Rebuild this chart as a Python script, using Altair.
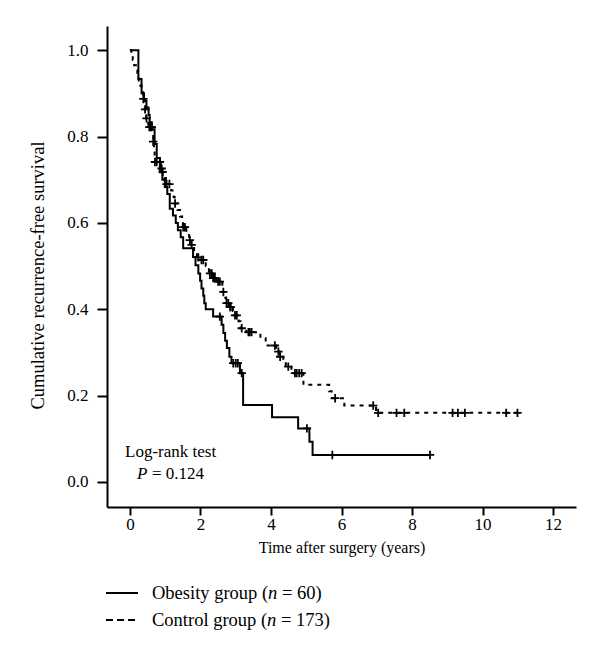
import altair as alt
import pandas as pd

# ---------------- data ----------------
# Obesity group (solid): step times (years) and survival after each step
ob_time = [0, 0.24, 0.33, 0.40, 0.47, 0.53, 0.56, 0.62, 0.70, 0.76, 0.85, 0.92, 0.99,
           1.06, 1.13, 1.22, 1.30, 1.36, 1.44, 1.51, 1.79, 1.86, 1.94, 1.99, 2.03,
           2.08, 2.11, 2.15, 2.36, 2.60, 2.65, 2.70, 2.75, 2.82, 2.88, 3.12, 3.21,
           4.03, 4.77, 5.09, 5.18, 8.51]
ob_surv = [1.0, 0.933, 0.90, 0.883, 0.867, 0.85, 0.833, 0.817, 0.783, 0.75, 0.717, 0.70, 0.683,
           0.667, 0.633, 0.617, 0.60, 0.583, 0.567, 0.541, 0.521, 0.502, 0.483, 0.466, 0.448,
           0.431, 0.414, 0.40, 0.383, 0.364, 0.345, 0.327, 0.31, 0.29, 0.275, 0.252, 0.178,
           0.15, 0.124, 0.093, 0.0625, 0.0625]
ob_cens = [2.55, 2.93, 3.00, 3.06, 3.17, 5.02, 5.74, 8.51]

# Control group (dashed)
ct_time = [0, 0.04, 0.08, 0.12, 0.17, 0.21, 0.25, 0.29, 0.33, 0.37, 0.42, 0.46, 0.52,
           0.64, 0.66, 0.68, 0.70, 0.71, 0.88, 0.92, 0.97, 1.02, 1.17, 1.24, 1.27, 1.35,
           1.42, 1.48, 1.50, 1.60, 1.68, 1.74, 1.82, 1.90, 2.00, 2.15, 2.24, 2.35, 2.45,
           2.62, 2.70, 2.73, 2.82, 2.92, 2.96, 3.08, 3.14, 3.30, 3.70, 3.85, 4.15, 4.24,
           4.35, 4.42, 4.58, 4.92, 5.65, 5.72, 6.08, 6.98, 11.0]
ct_surv = [1.0, 0.988, 0.977, 0.965, 0.953, 0.942, 0.93, 0.918, 0.906, 0.887, 0.863, 0.842, 0.822,
           0.805, 0.788, 0.77, 0.755, 0.741, 0.726, 0.718, 0.704, 0.69, 0.675, 0.66, 0.645, 0.63,
           0.615, 0.60, 0.59, 0.575, 0.56, 0.549, 0.535, 0.52, 0.514, 0.50, 0.483, 0.472, 0.464,
           0.44, 0.427, 0.414, 0.405, 0.396, 0.386, 0.372, 0.356, 0.347, 0.333, 0.316, 0.302, 0.29,
           0.278, 0.267, 0.252, 0.225, 0.21, 0.194, 0.177, 0.16, 0.16]
ct_cens = [0.38, 0.43, 0.47, 0.55, 0.59, 0.62, 0.66, 0.71, 0.76, 0.85, 0.90, 0.93, 1.04, 1.12,
           1.28, 1.51, 1.56, 1.70, 1.75, 1.94, 2.03, 2.08, 2.27, 2.32, 2.36, 2.41, 2.50, 2.55,
           2.65, 2.74, 2.79, 2.84, 2.86, 2.98, 3.03, 3.17, 3.36, 3.40, 3.45, 4.11, 4.21, 4.26,
           4.49, 4.68, 4.73, 4.80, 4.87, 5.82, 6.90, 7.04, 7.56, 7.78, 9.15, 9.30, 9.50,
           10.67, 10.99]

x_ticks = [0, 2, 4, 6, 8, 10, 12]
y_ticks = [0.0, 0.2, 0.4, 0.6, 0.8, 1.0]

legend_labels = [("Obesity group (", "n", "= 60)"), ("Control group (", "n", "= 173)")]
test_label = "Log-rank test"
p_label = ("P", "= 0.124")


def step_value(times, survs, t):
    v = survs[0]
    for ti, si in zip(times, survs):
        if ti <= t + 1e-9:
            v = si
        else:
            break
    return v


ob_df = pd.DataFrame({"t": ob_time, "s": ob_surv})
ct_df = pd.DataFrame({"t": ct_time, "s": ct_surv})
ob_c = pd.DataFrame({"t": ob_cens, "s": [step_value(ob_time, ob_surv, t) for t in ob_cens]})
ct_c = pd.DataFrame({"t": ct_cens, "s": [step_value(ct_time, ct_surv, t) for t in ct_cens]})

W, H = 469, 481
FONT = "Liberation Serif"
FS = 17      # tick labels, annotation
FS_X = 16    # x title
FS_Y = 18.5  # y title
FS_L = 18.5  # legend

x_scale = alt.Scale(domain=[-0.65, 12.65], nice=False, zero=False)
y_scale = alt.Scale(domain=[-0.058, 1.056], nice=False, zero=False)

x_axis = alt.Axis(values=x_ticks, format="d", title="Time after surgery (years)", grid=False,
                  domainColor="black", domainWidth=2, tickColor="black", tickWidth=2, tickSize=8,
                  labelFont=FONT, labelFontSize=FS, labelColor="black", labelPadding=1,
                  titleFont=FONT, titleFontSize=FS_X, titleFontWeight="normal", titleColor="black",
                  titleY=40, titleBaseline="middle")
y_axis = alt.Axis(values=y_ticks, format=".1f", title="Cumulative recurrence-free survival",
                  grid=False, domainColor="black", domainWidth=2, tickColor="black", tickWidth=2,
                  tickSize=10, labelFont=FONT, labelFontSize=FS, labelColor="black", labelPadding=9,
                  titleFont=FONT, titleFontSize=FS_Y, titleFontWeight="normal", titleColor="black",
                  titleX=-70, titleY=249, titleBaseline="middle", titleAngle=270)

CROSS = "M-1,0L1,0M0,-1L0,1"

solid = alt.Chart(ob_df).mark_line(interpolate="step-after", color="black", strokeWidth=2).encode(
    x=alt.X("t:Q", scale=x_scale, axis=x_axis),
    y=alt.Y("s:Q", scale=y_scale, axis=y_axis))
dashed = alt.Chart(ct_df).mark_line(interpolate="step-after", color="black", strokeWidth=2,
                                    strokeDash=[4, 5]).encode(x="t:Q", y="s:Q")
ob_marks = alt.Chart(ob_c).mark_point(shape=CROSS, filled=False, color="black", strokeWidth=1.8,
                                      size=70, opacity=1).encode(x="t:Q", y="s:Q")
ct_marks = alt.Chart(ct_c).mark_point(shape=CROSS, filled=False, color="black", strokeWidth=1.8,
                                      size=70, opacity=1).encode(x="t:Q", y="s:Q")

one = pd.DataFrame({"k": [0]})


def txt(s, x, y, size, italic=False):
    return alt.Chart(one).mark_text(text=s, font=FONT, fontSize=size, color="black", align="left",
                                    baseline="middle",
                                    fontStyle="italic" if italic else "normal").encode(
        x=alt.value(x), y=alt.value(y))


def char_w(s, size):
    # Times metrics (per 1000 em)
    m = {"O": 722, "b": 500, "e": 444, "s": 389, "i": 278, "t": 278, "y": 500, " ": 250, "g": 500,
         "r": 333, "o": 500, "u": 500, "p": 500, "(": 333, "C": 667, "n": 500, "l": 278, "P": 611}
    return sum(m.get(c, 500) for c in s) * size / 1000.0


layers = [solid, dashed, ob_marks, ct_marks]

# annotation
layers.append(txt(test_label, 18, 426, FS))
layers.append(txt(p_label[0], 30, 448, FS, italic=True))
layers.append(txt(p_label[1], 30 + char_w("P", FS) + 4.5, 448, FS))

# legend
leg_y = [567, 594]
dashes = [[1, 0], [7, 4]]
for i, (a, b, c) in enumerate(legend_labels):
    ly = leg_y[i]
    layers.append(alt.Chart(one).mark_rule(color="black", strokeWidth=2, strokeDash=dashes[i]).encode(
        x=alt.value(-1), x2=alt.value(31), y=alt.value(ly)))
    x0 = 45
    layers.append(txt(a, x0, ly, FS_L))
    x1 = x0 + char_w(a, FS_L)
    layers.append(txt(b, x1, ly, FS_L, italic=True))
    layers.append(txt(c, x1 + char_w("n", FS_L) + char_w(" ", FS_L), ly, FS_L))

chart = alt.layer(*layers).properties(
    width=W, height=H,
    autosize=alt.AutoSizeParams(type="none"),
    padding={"left": 99, "top": 18, "right": 16, "bottom": 130},
).configure_view(strokeWidth=0)

chart.save("out.html", embed_options={"renderer": "svg", "actions": False})
